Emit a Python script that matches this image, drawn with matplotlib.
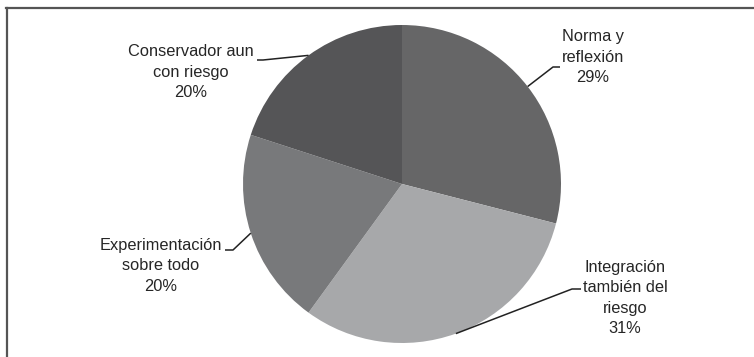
import numpy as np
import matplotlib
matplotlib.use("Agg")
import matplotlib.pyplot as plt
from matplotlib.lines import Line2D

labels = ["Norma y\nreflexión", "Integración\ntambién del\nriesgo",
          "Experimentación\nsobre todo", "Conservador aun\ncon riesgo"]
shares = [29, 31, 20, 20]
colors = ["#666667", "#a7a8aa", "#78797b", "#555557"]

W, H = 754, 357
fig = plt.figure(figsize=(W / 100, H / 100), dpi=100)
ax = fig.add_axes([0, 0, 1, 1])

cx, cy, r = 402, H - 184, 159
wedges, _ = ax.pie(shares, colors=colors, startangle=90, counterclock=False,
                   center=(cx, cy), radius=r,
                   wedgeprops=dict(linewidth=0))
ax.set_xlim(0, W)
ax.set_ylim(0, H)
ax.axis("off")

# label text centre, elbow of leader, end of horizontal stub
layout = [
    dict(text=(593, 57), elbow=(553, 67), stub=(560, 67)),
    dict(text=(625, 298), elbow=(572, 289), stub=(581, 289)),
    dict(text=(161, 266), elbow=(233, 250), stub=(225, 250)),
    dict(text=(191, 72), elbow=(263, 60), stub=(257, 60)),
]

for w, lab, pct, lay in zip(wedges, labels, shares, layout):
    mid = np.deg2rad((w.theta1 + w.theta2) / 2)
    px, py = cx + r * np.cos(mid), cy + r * np.sin(mid)
    ex, ey = lay["elbow"]
    sx, sy = lay["stub"]
    ax.plot([px, ex, sx], [py, H - ey, H - sy], color="#222222", lw=1.1,
            solid_capstyle="butt")
    tx, ty = lay["text"]
    ax.text(tx, H - ty, f"{lab}\n{pct}%", ha="center", va="center",
            fontsize=11.8, family="Liberation Sans", color="#262626",
            linespacing=1.42)

# frame lines (top and left)
fig.add_artist(Line2D([6 / W, 1], [1 - 7.5 / H, 1 - 7.5 / H], color="#555555", lw=1.6))
fig.add_artist(Line2D([7 / W, 7 / W], [0, 1 - 7.5 / H], color="#555555", lw=1.6))

fig.savefig("out.png", dpi=100)
